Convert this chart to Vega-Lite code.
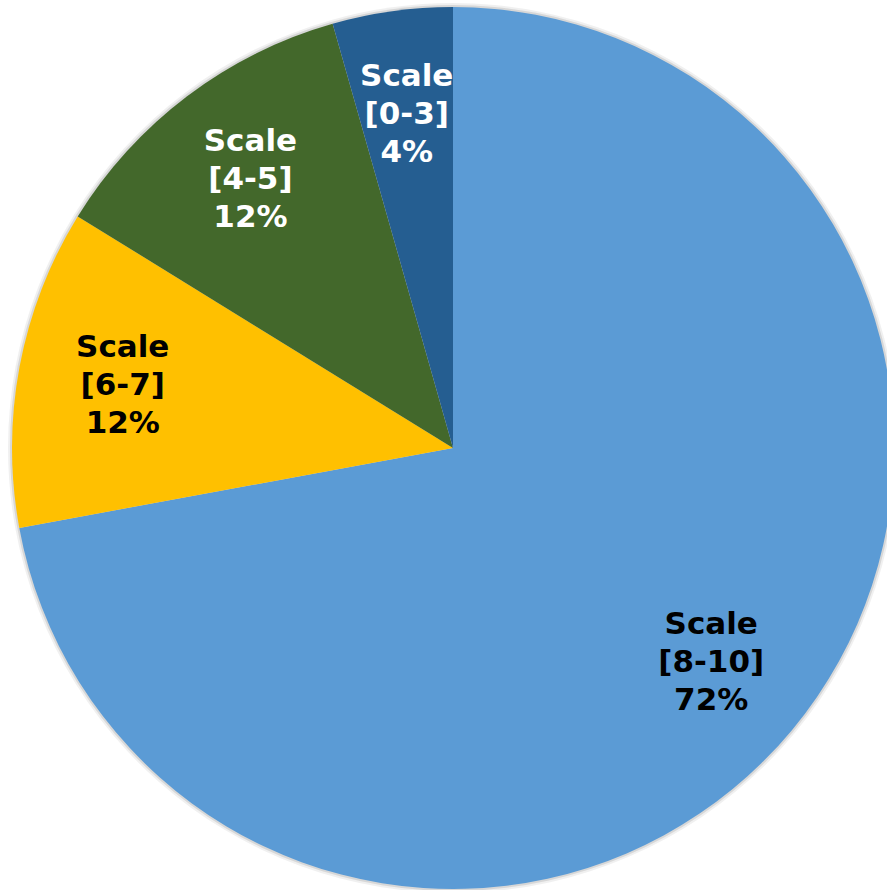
{
  "$schema": "https://vega.github.io/schema/vega-lite/v6.json",
  "width": 906,
  "height": 896,
  "padding": 0,
  "autosize": {"type": "none"},
  "background": "white",
  "config": {"view": {"stroke": null}},
  "data": {
    "values": [
      {"label": "Scale\n[8-10]\n72%", "cat": "Scale [8-10]", "value": 72.1, "order": 1, "textColor": "black"},
      {"label": "Scale\n[6-7]\n12%", "cat": "Scale [6-7]", "value": 11.7, "order": 2, "textColor": "black"},
      {"label": "Scale\n[4-5]\n12%", "cat": "Scale [4-5]", "value": 11.8, "order": 3, "textColor": "white"},
      {"label": "Scale\n[0-3]\n4%", "cat": "Scale [0-3]", "value": 4.4, "order": 4, "textColor": "white"}
    ]
  },
  "encoding": {
    "theta": {"field": "value", "type": "quantitative", "stack": true},
    "order": {"field": "order", "type": "quantitative"}
  },
  "layer": [
    {
      "mark": {"type": "arc", "radius": 445, "color": "#000000", "opacity": 0.06},
      "encoding": {}
    },
    {
      "mark": {"type": "arc", "radius": 443, "color": "#000000", "opacity": 0.1},
      "encoding": {}
    },
    {
      "mark": {"type": "arc", "radius": 441, "strokeWidth": 0},
      "encoding": {
        "color": {
          "field": "cat",
          "type": "nominal",
          "scale": {
            "domain": ["Scale [8-10]", "Scale [6-7]", "Scale [4-5]", "Scale [0-3]"],
            "range": ["#5B9BD5", "#FFC000", "#43682B", "#255E91"]
          },
          "legend": null
        }
      }
    },
    {
      "mark": {
        "type": "text",
        "radius": 336,
        "font": "DejaVu Sans",
        "fontWeight": "bold",
        "fontSize": 31,
        "lineHeight": 38,
        "lineBreak": "\n",
        "align": "center",
        "baseline": "middle",
        "dy": -38
      },
      "encoding": {
        "text": {"field": "label", "type": "nominal"},
        "color": {"field": "textColor", "type": "nominal", "scale": null}
      }
    }
  ]
}
